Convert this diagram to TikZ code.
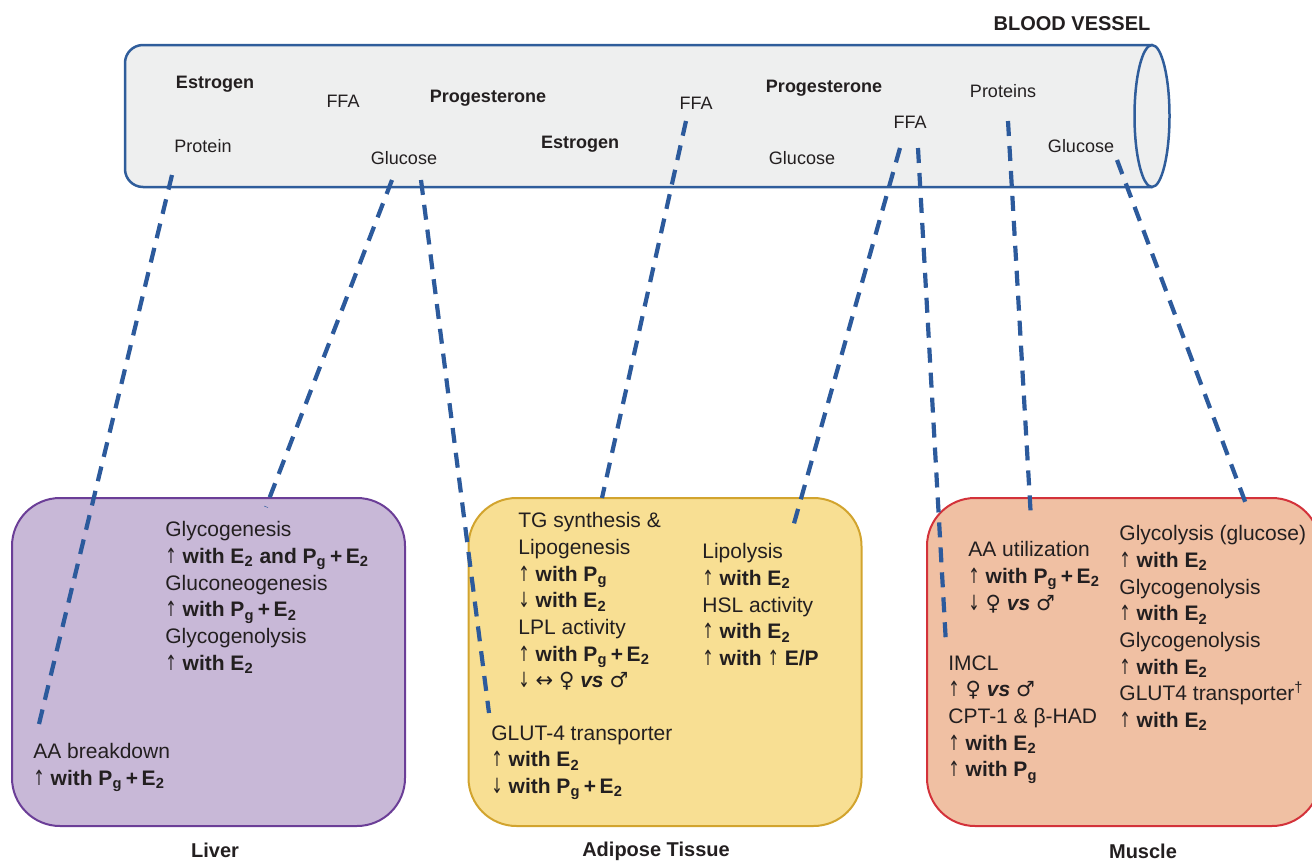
\documentclass[tikz,border=0pt]{standalone}
\usepackage{fontspec}
\setmainfont{Liberation Sans}
\newfontfamily\symfont{DejaVu Sans}
\usetikzlibrary{positioning}

\definecolor{vesselline}{HTML}{2F5D9B}
\definecolor{vesselfill}{HTML}{EEEFEF}
\definecolor{linkblue}{HTML}{2C5A9C}
\definecolor{liverfill}{HTML}{C8B8D7}
\definecolor{liverline}{HTML}{6B3E97}
\definecolor{adiposefill}{HTML}{F8DF93}
\definecolor{adiposeline}{HTML}{D2A42E}
\definecolor{musclefill}{HTML}{F0C0A3}
\definecolor{muscleline}{HTML}{D3323A}
\definecolor{inktext}{HTML}{231F20}

\newcommand{\Etwo}{E\textsubscript{2}}
\newcommand{\Pg}{P\textsubscript{g}}
\newcommand{\PgE}{\Pg\,+\,\Etwo}
\newcommand{\vsword}{\textbf{\textit{vs}}}
\newcommand{\incr}{\scalebox{0.65}[1]{\symfont\mdseries ↑}}
\newcommand{\decr}{\scalebox{0.65}[1]{\symfont\mdseries ↓}}
\newcommand{\nochange}{{\symfont\mdseries ↔}}
\newcommand{\fem}{{\symfont\mdseries ♀}}
\newcommand{\mal}{{\symfont\mdseries ♂}}

\begin{document}
\begin{tikzpicture}[x=0.5pt,y=-0.5pt]

	\tikzset{
		organbox/.style={rectangle,rounded corners=24pt,line width=1pt,minimum width=196.5pt,minimum height=164pt},
		vesseltext/.style={font=\fontsize{9}{11}\selectfont,text=inktext,inner sep=0pt},
		vesselbold/.style={vesseltext,font=\fontsize{9}{11}\selectfont\bfseries},
		boxtext/.style={font=\fontsize{10.5}{13.35}\selectfont,text=inktext,align=left,inner sep=0pt,anchor=north west},
		organlabel/.style={font=\fontsize{10}{12}\selectfont\bfseries,text=inktext,inner sep=0pt},
		link/.style={draw=linkblue,line width=2.1pt,dash pattern=on 7.5pt off 5pt}
	}
	\useasboundingbox (0,0) rectangle (1312,862);

	% blood vessel
	\draw[vesselline,fill=vesselfill,line width=1.25pt,rounded corners=9pt] (1152,45) -- (125,45) -- (125,187) -- (1152,187);
	\draw[vesselline,fill=vesselfill,line width=1.25pt] (1152,116) ellipse [x radius=8.75pt,y radius=35.5pt];
	\node[organlabel] (vessellabel) at (1072,24) {BLOOD VESSEL};

	\node[vesselbold] (estrogenA) at (215,84) {Estrogen};
	\node[vesseltext] (ffaA) at (343,101) {FFA};
	\node[vesselbold] (progesteroneA) at (488,98) {Progesterone};
	\node[vesseltext] (proteinA) at (203,146) {Protein};
	\node[vesseltext] (glucoseA) at (404,158) {Glucose};
	\node[vesselbold] (estrogenB) at (580,144) {Estrogen};
	\node[vesseltext] (ffaB) at (696,103) {FFA};
	\node[vesselbold] (progesteroneB) at (824,88) {Progesterone};
	\node[vesseltext] (glucoseB) at (802,158) {Glucose};
	\node[vesseltext] (ffaC) at (910,122) {FFA};
	\node[vesseltext] (proteinsC) at (1003,91) {Proteins};
	\node[vesseltext] (glucoseC) at (1081,146) {Glucose};

	% organs
	\node[organbox,fill=liverfill,draw=liverline] (liver) at (208.5,662) {};
	\node[organbox,fill=adiposefill,draw=adiposeline] (adipose) at (665,662) {};
	\node[organbox,fill=musclefill,draw=muscleline] (muscle) at (1123.5,662) {};

	\node[organlabel] (liverlabel) at (215,850) {Liver};
	\node[organlabel] (adiposelabel) at (656,851) {Adipose Tissue};
	\node[organlabel] (musclelabel) at (1143,851) {Muscle};

	% liver text
	\node[boxtext] (livercarb) at (165,521) {Glycogenesis\\
		\incr{} \textbf{with \Etwo{} and \PgE}\\
		Gluconeogenesis\\
		\incr{} \textbf{with \PgE}\\
		Glycogenolysis\\
		\incr{} \textbf{with \Etwo}};
	\node[boxtext] (liveraa) at (33,743) {AA breakdown\\
		\incr{} \textbf{with \PgE}};

	% adipose text
	\node[boxtext] (adiposetg) at (518,512) {TG synthesis \&\\
		Lipogenesis\\
		\incr{} \textbf{with \Pg}\\
		\decr{} \textbf{with \Etwo}\\
		LPL activity\\
		\incr{} \textbf{with \PgE}\\
		\decr{} \nochange{} \fem{} \vsword{} \mal};
	\node[boxtext] (adiposeglut) at (491,725) {GLUT-4 transporter\\
		\incr{} \textbf{with \Etwo}\\
		\decr{} \textbf{with \PgE}};
	\node[boxtext] (adiposelipo) at (702,543) {Lipolysis\\
		\incr{} \textbf{with \Etwo}\\
		HSL activity\\
		\incr{} \textbf{with \Etwo}\\
		\incr{} \textbf{with} \incr{} \textbf{E/P}};

	% muscle text
	\node[boxtext] (muscleaa) at (968,541) {AA utilization\\
		\incr{} \textbf{with \PgE}\\
		\decr{} \fem{} \vsword{} \mal};
	\node[boxtext] (muscleimcl) at (948,655) {IMCL\\
		\incr{} \fem{} \vsword{} \mal\\
		CPT-1 \& β-HAD\\
		\incr{} \textbf{with \Etwo}\\
		\incr{} \textbf{with \Pg}};
	\node[boxtext] (muscleglyco) at (1119,525) {Glycolysis (glucose)\\
		\incr{} \textbf{with \Etwo}\\
		Glycogenolysis\\
		\incr{} \textbf{with \Etwo}\\
		Glycogenolysis\\
		\incr{} \textbf{with \Etwo}\\
		GLUT4 transporter\textsuperscript{†}\\
		\incr{} \textbf{with \Etwo}};

	% connector ends
	\coordinate (proteinout) at (172,175);
	\coordinate (liveraain) at (39,724);
	\coordinate (glucoseoutA) at (392,180);
	\coordinate (livercarbin) at (266,507);
	\coordinate (glucoseoutB) at (421,180);
	\coordinate (adiposeglutin) at (489,713);
	\coordinate (ffaoutB) at (686,121);
	\coordinate (adiposetgin) at (602,498);
	\coordinate (ffaoutC) at (900,148);
	\coordinate (adiposelipoin) at (793,527);
	\coordinate (ffaoutD) at (918,148);
	\coordinate (muscleimclin) at (946,644);
	\coordinate (proteinsout) at (1008,121);
	\coordinate (muscleaain) at (1031,519);
	\coordinate (glucoseoutC) at (1117,160);
	\coordinate (muscleglycoin) at (1246,504);

	\draw[link] (proteinout) -- (liveraain);
	\draw[link] (glucoseoutA) -- (livercarbin);
	\draw[link] (glucoseoutB) -- (adiposeglutin);
	\draw[link] (ffaoutB) -- (adiposetgin);
	\draw[link] (ffaoutC) -- (adiposelipoin);
	\draw[link] (ffaoutD) -- (muscleimclin);
	\draw[link] (proteinsout) -- (muscleaain);
	\draw[link] (glucoseoutC) -- (muscleglycoin);

\end{tikzpicture}
\end{document}
